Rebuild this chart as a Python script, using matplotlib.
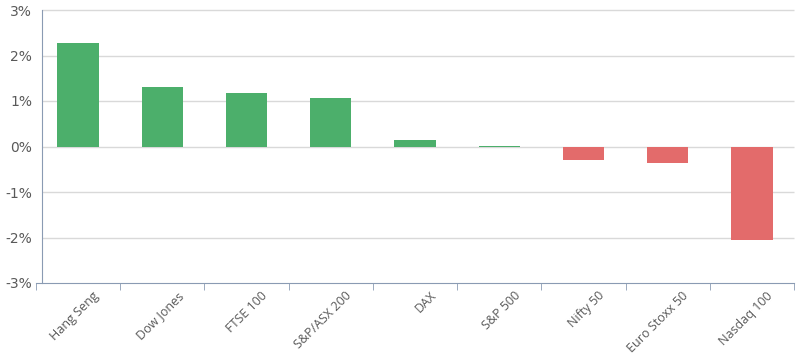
import numpy as np
import matplotlib.pyplot as plt
from matplotlib.transforms import ScaledTranslation

indices = ['Hang Seng', 'Dow Jones', 'FTSE 100', 'S&P/ASX 200', 'DAX',
           'S&P 500', 'Nifty 50', 'Euro Stoxx 50', 'Nasdaq 100']
returns = [2.27, 1.30, 1.17, 1.06, 0.15, 0.02, -0.29, -0.37, -2.05]
y_ticks = [-3, -2, -1, 0, 1, 2, 3]

green = '#4caf6b'
red = '#e36b6b'
axis_col = '#8a9bb3'
text_col = '#595959'

fig = plt.figure(figsize=(8, 3.57), dpi=100)
ax = fig.add_axes([36 / 800, 1 - 283 / 357, (794 - 36) / 800, (283 - 10) / 357])

x = np.arange(len(indices))
spine_x = -0.43
colors = [green if v >= 0 else red for v in returns]
ax.bar(x, returns, width=0.49, color=colors, zorder=2)

ax.set_xlim(-0.5, len(indices) - 0.5)
ax.set_ylim(-3, 3)
ax.set_yticks(y_ticks)
ax.set_yticklabels([f'{t}%' for t in y_ticks], fontsize=9.5, family='Open Sans')
ax.hlines(y_ticks[1:], spine_x, len(indices) - 0.5, color='#d9d9d9',
          linewidth=1, zorder=0, clip_on=False)
ax.tick_params(axis='y', length=0, pad=7, labelcolor=text_col)

for s in ['top', 'right']:
    ax.spines[s].set_visible(False)
ax.spines['left'].set_position(('data', spine_x))
ax.spines['left'].set_color(axis_col)
ax.spines['bottom'].set_color(axis_col)

ax.set_xticks(x)
ax.set_xticks(np.arange(len(indices) + 1) - 0.5, minor=True)
ax.tick_params(axis='x', which='major', length=0, pad=2, labelcolor=text_col)
ax.tick_params(axis='x', which='minor', length=5, color=axis_col, direction='out')
labels = ax.set_xticklabels(indices, rotation=45, ha='right', va='center',
                            rotation_mode='anchor', fontsize=9, family='Open Sans')
offset = ScaledTranslation(0.19, -0.08, fig.dpi_scale_trans)
for lab in labels:
    lab.set_transform(lab.get_transform() + offset)

fig.savefig('out.png', dpi=100)
